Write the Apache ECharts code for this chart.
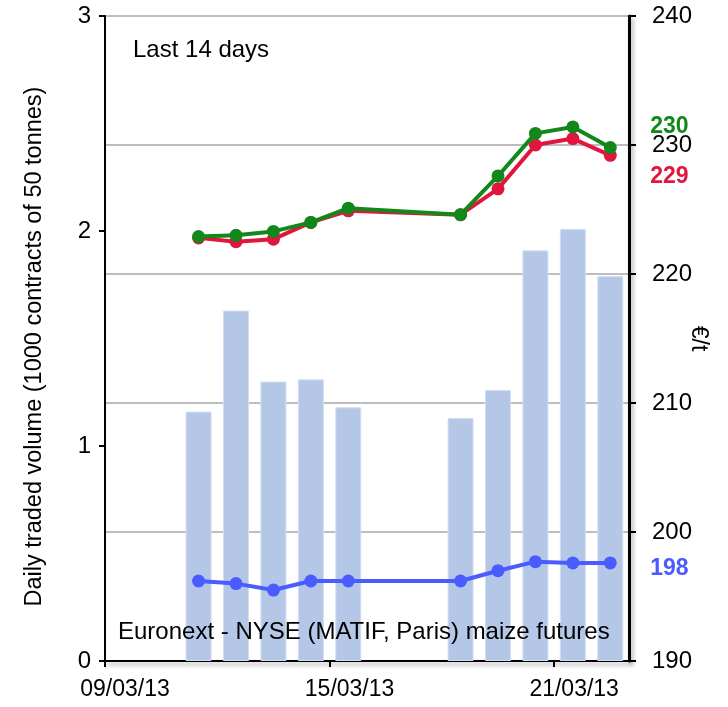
<!DOCTYPE html>
<html>
<head>
<meta charset="utf-8">
<script src="https://cdn.jsdelivr.net/npm/echarts@6/dist/echarts.min.js"></script>
<style>
  html, body { margin: 0; background: #fff; }
  #chart { width: 728px; height: 707px; }
</style>
</head>
<body>
<div id="chart"></div>
<script>
// trading days (March 2013)
const dates = ['11/03/13', '12/03/13', '13/03/13', '14/03/13', '15/03/13',
  '18/03/13', '19/03/13', '20/03/13', '21/03/13', '22/03/13']
// daily traded volume, 1000 contracts
const volume = [1.16, 1.63, 1.30, 1.31, 1.18, 1.13, 1.26, 1.91, 2.01, 1.79]
// prices, €/t
const priceGreen = [222.9, 223.0, 223.3, 224.0, 225.1, 224.6, 227.6, 230.9, 231.4, 229.8]
const priceRed = [222.8, 222.5, 222.7, 224.0, 224.9, 224.6, 226.6, 230.0, 230.5, 229.2]
const priceBlue = [196.2, 196.0, 195.5, 196.2, 196.2, 196.2, 197.0, 197.7, 197.6, 197.6]
const xTickLabels = ['09/03/13', '15/03/13', '21/03/13']

const FONT = 'Liberation Sans, Arial, sans-serif'
const GREEN = '#12881a'
const RED = '#e0163f'
const BLUE = '#4a5cff'

// bars sit between tick marks: centre of the day slot
const dayPos = d => parseInt(d.slice(0, 2), 10) + 0.5
const pairs = arr => dates.map((d, i) => [dayPos(d), arr[i]])

const axisShadow = { shadowColor: 'rgba(0,0,0,0.35)', shadowBlur: 4, shadowOffsetX: 2, shadowOffsetY: 3 }

function lineSeries(name, data, color, labelOffset, z) {
  return {
    name,
    type: 'line',
    yAxisIndex: 1,
    data: pairs(data),
    symbol: 'circle',
    symbolSize: 13,
    z,
    lineStyle: { color, width: 4 },
    itemStyle: { color },
    endLabel: {
      show: true,
      formatter: p => Math.round(p.value[1]),
      color,
      fontFamily: FONT,
      fontWeight: 'bold',
      fontSize: 23,
      offset: labelOffset,
    },
  }
}

const chart = echarts.init(document.getElementById('chart'))
chart.setOption({
  animation: false,
  textStyle: { fontFamily: FONT },
  title: [
    { text: 'Last 14 days', left: 133, top: 38, padding: 0, textStyle: { fontFamily: FONT, fontSize: 24, fontWeight: 'normal', color: '#000' } },
    { text: 'Euronext - NYSE (MATIF, Paris) maize futures', left: 118, top: 620, padding: 0, textStyle: { fontFamily: FONT, fontSize: 24, fontWeight: 'normal', color: '#000' } },
  ],
  grid: { left: 105, right: 99, top: 16, bottom: 46, outerBoundsMode: 'none' },
  xAxis: {
    type: 'value',
    min: 9,
    max: 23,
    interval: 6,
    axisLine: { lineStyle: { color: '#000', width: 2, ...axisShadow } },
    axisTick: { show: true, length: 6, lineStyle: { color: '#000', width: 2 } },
    splitLine: { show: false },
    axisLabel: {
      color: '#000',
      fontSize: 23,
      fontFamily: FONT,
      margin: 17,
      padding: [0, 0, 0, 40],
      showMaxLabel: false,
      formatter: v => xTickLabels.find(l => parseInt(l, 10) === v) || '',
    },
  },
  yAxis: [
    {
      type: 'value',
      min: 0,
      max: 3,
      interval: 1,
      name: 'Daily traded volume (1000 contracts of 50 tonnes)',
      nameLocation: 'middle',
      nameGap: 58,
      nameMoveOverlap: false,
      nameTextStyle: { fontFamily: FONT, fontSize: 23.5, color: '#000', padding: [0, 16, 0, 0] },
      axisLine: { show: true, lineStyle: { color: '#000', width: 2 } },
      axisTick: { show: true, length: 6, lineStyle: { color: '#000', width: 2 } },
      splitLine: { show: false },
      axisLabel: { color: '#000', fontSize: 24, fontFamily: FONT, margin: 14 },
    },
    {
      type: 'value',
      position: 'right',
      min: 190,
      max: 240,
      interval: 10,
      name: '€/t',
      nameLocation: 'middle',
      nameRotate: -90,
      nameGap: 58,
      nameMoveOverlap: false,
      nameTextStyle: { fontFamily: FONT, fontSize: 23, color: '#000' },
      axisLine: { show: true, lineStyle: { color: '#000', width: 3, ...axisShadow } },
      axisTick: { show: true, length: 7, lineStyle: { color: '#000', width: 2 } },
      splitLine: { show: true, lineStyle: { color: '#bebebe', width: 2 } },
      axisLabel: { color: '#000', fontSize: 24, fontFamily: FONT, margin: 23 },
    },
  ],
  series: [
    {
      name: 'Volume',
      type: 'bar',
      yAxisIndex: 0,
      data: pairs(volume),
      barWidth: 26,
      itemStyle: { color: '#b4c7e7', borderColor: '#d3def1', borderWidth: 1 },
      z: 1,
    },
    lineSeries('Red', priceRed, RED, [32, 21], 3),
    lineSeries('Green', priceGreen, GREEN, [32, -21], 4),
    lineSeries('Blue', priceBlue, BLUE, [32, 6], 5),
  ],
})
</script>
</body>
</html>
